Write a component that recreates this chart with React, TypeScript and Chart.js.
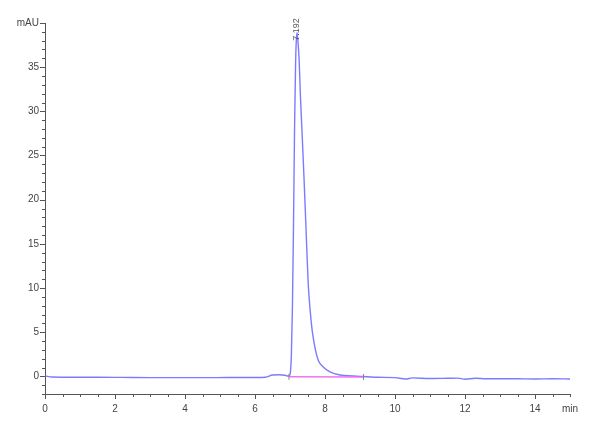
import React, { useEffect, useRef } from "react";
import { Chart, registerables } from "chart.js";

Chart.register(...registerables);

// retention time (min) and signal (mAU)
const times = [
  0, 0.2, 0.8, 1.5, 2.2, 3.0, 3.8, 4.6, 5.2, 5.8, 6.3, 6.5, 6.7, 6.85, 6.95, 6.98, 7.01, 7.04, 7.07, 7.1,
  7.13, 7.16, 7.18, 7.2, 7.23, 7.26, 7.3, 7.34, 7.4, 7.46, 7.52, 7.58, 7.64, 7.73, 7.81, 7.95, 8.14, 8.43, 8.8,
  9.0, 9.5, 10.0, 10.3, 10.5, 11.0, 11.5, 11.8, 12.0, 12.3, 12.6, 13.0, 13.5, 14.0, 14.5, 15.0,
];
const absorbance = [
  0.05, -0.08, -0.1, -0.1, -0.12, -0.15, -0.15, -0.15, -0.14, -0.14, -0.1, 0.15, 0.18, 0.12, 0.02, 0.05, 0.4, 2.5, 8, 17,
  28, 35.5, 38, 38.9, 37.8, 35.9, 31.5, 28, 22.5, 16.5, 10.5, 7.3, 5.0, 2.95, 1.8, 1.05, 0.5, 0.15, 0.05,
  0.0, -0.1, -0.15, -0.3, -0.18, -0.25, -0.22, -0.2, -0.33, -0.22, -0.28, -0.27, -0.28, -0.3, -0.28, -0.3,
];

// integration baseline under the peak
const baselineTimes = [6.97, 9.1];
const baselineValues = [-0.05, -0.08];

const peakTime = 7.2;
const peakHeight = 38.9;
const peakLabel = "7.192";

const xMin = 0;
const xMax = 15;
const yMin = -2;
const yMax = 40;
const xLabelEvery = 2;
const yLabelEvery = 5;

const FONT = "'Liberation Sans', Arial, sans-serif";
const AXIS = "#555";

const ticksPlugin = {
  id: "hplcTicks",
  afterDraw(chart: any) {
    const ctx = chart.ctx;
    const xs = chart.scales.x;
    const ys = chart.scales.y;
    const area = chart.chartArea;
    ctx.save();
    ctx.strokeStyle = AXIS;
    ctx.lineWidth = 1;
    ctx.beginPath();
    for (let v = xMin; v <= xMax + 1e-9; v += 0.5) {
      const px = Math.round(xs.getPixelForValue(v)) + 0.5;
      const len = v % xLabelEvery === 0 ? 5 : 3;
      ctx.moveTo(px, area.bottom);
      ctx.lineTo(px, area.bottom + len);
    }
    for (let v = yMin; v <= yMax + 1e-9; v += 1) {
      const py = Math.round(ys.getPixelForValue(v)) + 0.5;
      const len = v % yLabelEvery === 0 ? 5 : 3;
      ctx.moveTo(area.left, py);
      ctx.lineTo(area.left - len, py);
    }
    ctx.stroke();

    // peak retention-time label
    const px = xs.getPixelForValue(peakTime);
    const py = ys.getPixelForValue(peakHeight);
    ctx.translate(px, py + 8);
    ctx.rotate(-Math.PI / 2);
    ctx.fillStyle = "#555";
    ctx.font = `9px ${FONT}`;
    ctx.textAlign = "left";
    ctx.textBaseline = "middle";
    ctx.fillText(peakLabel, 0, 0);
    ctx.restore();
  },
};

const ChromatogramChart = () => {
  const chartRef = useRef<HTMLCanvasElement | null>(null);

  useEffect(() => {
    if (!chartRef.current) return;
    const ctx = chartRef.current.getContext("2d");
    if (!ctx) return;

    const chart = new Chart(ctx, {
      type: "line",
      data: {
        datasets: [
          {
            label: "baseline",
            data: baselineTimes.map((t, i) => ({ x: t, y: baselineValues[i] })),
            borderColor: "rgba(240,100,240,0.9)",
            borderWidth: 1.5,
            pointStyle: "line",
            rotation: 90,
            pointRadius: 3,
            pointBorderColor: "#888",
            pointBorderWidth: 1,
          },
          {
            label: "signal",
            data: times.map((t, i) => ({ x: t, y: absorbance[i] })),
            borderColor: "rgba(100,100,255,0.85)",
            borderWidth: 1.4,
            pointRadius: 0,
            cubicInterpolationMode: "monotone",
          },
        ],
      },
      options: {
        animation: false,
        responsive: true,
        maintainAspectRatio: false,
        layout: { padding: { top: 23, right: 30, left: 0, bottom: 0 } },
        plugins: { legend: { display: false }, tooltip: { enabled: false } },
        scales: {
          x: {
            type: "linear",
            min: xMin,
            max: xMax,
            grid: { display: false, drawTicks: false },
            border: { display: true, color: AXIS, width: 1 },
            ticks: {
              stepSize: 1,
              autoSkip: false,
              maxRotation: 0,
              padding: 9,
              color: "#444",
              font: { family: FONT, size: 10 },
              callback: (v: any) => (v === xMax ? "min" : v % xLabelEvery === 0 ? String(v) : ""),
            },
            afterFit: (s: any) => {
              s.height = 46;
            },
          },
          y: {
            type: "linear",
            min: yMin,
            max: yMax,
            grid: { display: false, drawTicks: false },
            border: { display: true, color: AXIS, width: 1 },
            ticks: {
              stepSize: 1,
              autoSkip: false,
              padding: 6,
              color: "#444",
              font: { family: FONT, size: 10 },
              callback: (v: any) => (v === yMax ? "mAU" : v % yLabelEvery === 0 && v >= 0 ? String(v) : ""),
            },
            afterFit: (s: any) => {
              s.width = 45;
            },
          },
        },
      },
      plugins: [ticksPlugin],
    });

    return () => {
      chart.destroy();
    };
  }, []);

  return <canvas ref={chartRef} />;
};

export default function App() {
  return (
    <div style={{ position: "fixed", left: 0, top: 0, width: 600, height: 440, background: "#fff" }}>
      <ChromatogramChart />
    </div>
  );
}
